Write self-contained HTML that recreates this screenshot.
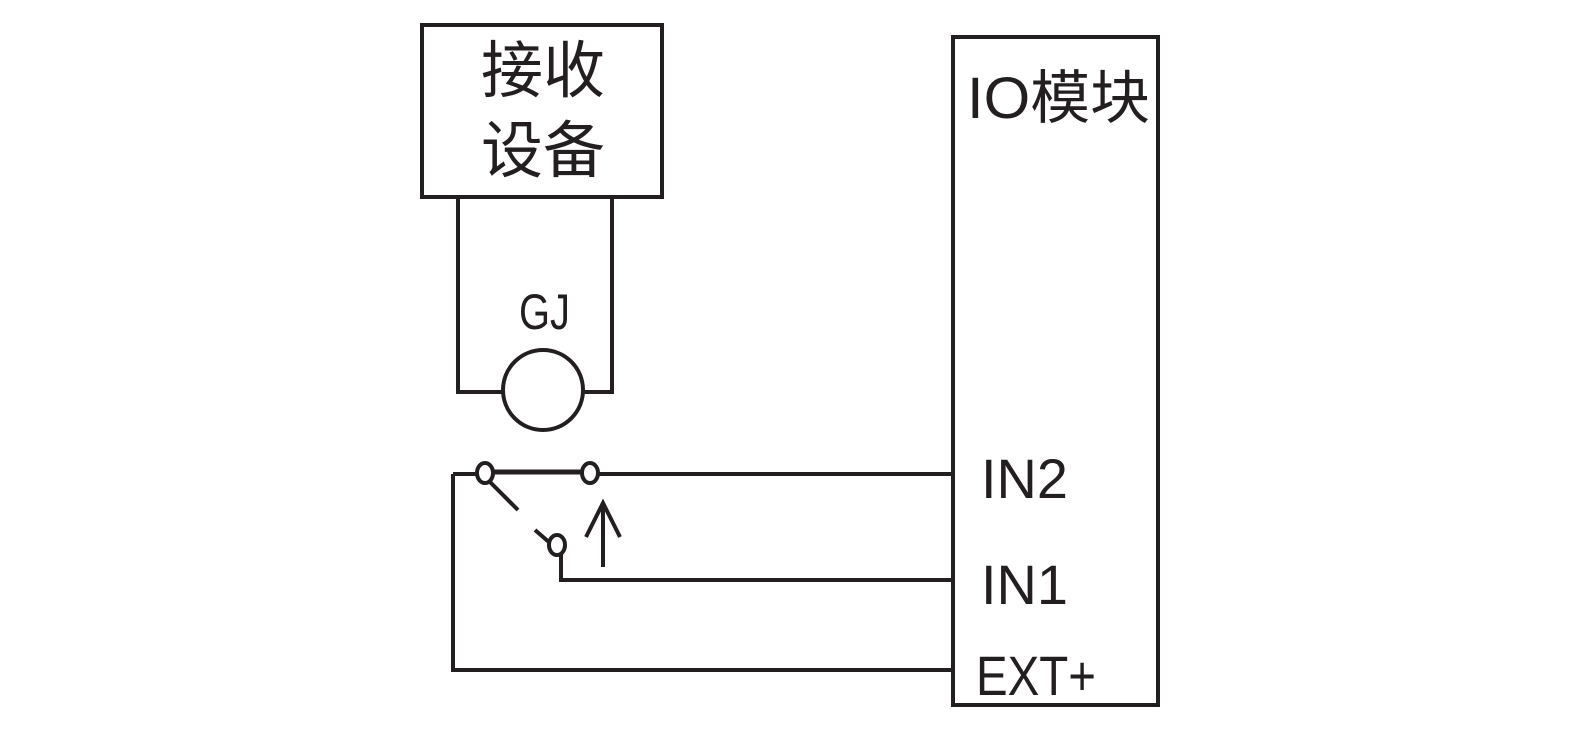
<!DOCTYPE html>
<html><head><meta charset="utf-8"><style>html,body{margin:0;padding:0;background:#fff;}</style></head>
<body>
<svg width="1575" height="730" viewBox="0 0 1575 730" xmlns="http://www.w3.org/2000/svg">
<g fill="none" stroke="#231f20" stroke-width="4">
<rect x="422" y="25" width="240" height="172"/>
<rect x="953" y="37" width="205" height="668"/>
<polyline points="458,197 458,392 503,392"/>
<polyline points="612,197 612,392 583,392"/>
<circle cx="543" cy="390" r="40"/>
<line x1="453" y1="474" x2="477" y2="474"/>
<line x1="493" y1="472" x2="582" y2="472" stroke-width="5"/>
<line x1="598" y1="474" x2="953" y2="474"/>
<ellipse cx="485" cy="473" rx="8" ry="10"/>
<ellipse cx="590" cy="473" rx="8" ry="10"/>
<ellipse cx="557" cy="545" rx="8" ry="10"/>
<line x1="490" y1="482" x2="518" y2="510"/>
<line x1="535" y1="530" x2="550" y2="543"/>
<polyline points="561,554 561,580 953,580"/>
<polyline points="453,474 453,670 953,670"/>
<line x1="603" y1="505" x2="603" y2="567"/>
<polyline points="586,537 603,503 620,537"/>
</g>
<g fill="#231f20" font-family="Liberation Sans, Noto Sans CJK SC, sans-serif">
<text x="481" y="92" font-size="62" textLength="124" lengthAdjust="spacingAndGlyphs">接收</text>
<text x="481" y="172" font-size="62" textLength="124" lengthAdjust="spacingAndGlyphs">设备</text>
<text x="519" y="329" font-size="50" textLength="51" lengthAdjust="spacingAndGlyphs">GJ</text>
<text x="967" y="118" font-size="58" textLength="183" lengthAdjust="spacingAndGlyphs">IO模块</text>
<text x="981" y="498" font-size="56" textLength="87" lengthAdjust="spacingAndGlyphs">IN2</text>
<text x="981" y="604" font-size="56" textLength="87" lengthAdjust="spacingAndGlyphs">IN1</text>
<text x="976" y="695" font-size="56" textLength="120" lengthAdjust="spacingAndGlyphs">EXT+</text>
</g>
</svg>
</body></html>
